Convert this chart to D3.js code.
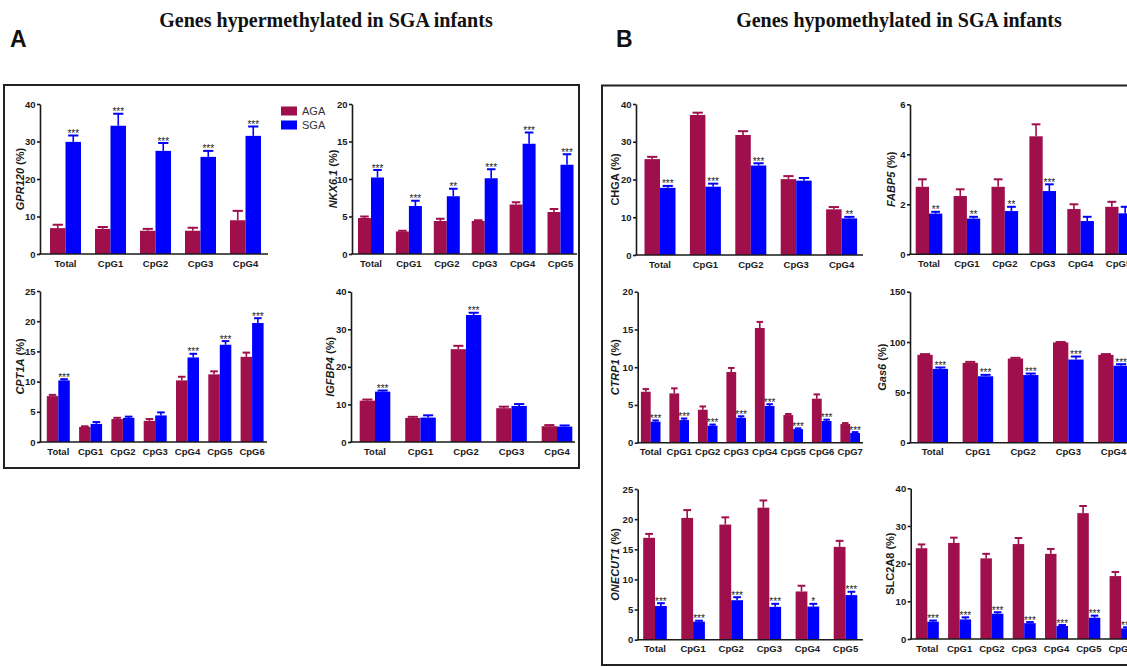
<!DOCTYPE html>
<html><head><meta charset="utf-8">
<script src="https://cdn.jsdelivr.net/npm/d3@7"></script>
<style>
body{margin:0;background:#fff;overflow:hidden}
svg{display:block;font-family:"Liberation Sans",Arial,sans-serif}
</style>
</head><body>
<svg id="chart" width="1127" height="667"></svg>
<script>
// ---------------- DATA ----------------
const seriesNames = ["AGA", "SGA"];
const seriesColors = ["#9e0f4b", "#0000ff"];

// Panel A: hypermethylated
const gpr120Cats = ["Total","CpG1","CpG2","CpG3","CpG4"];
const gpr120AGA = [6.9, 6.7, 6.2, 6.2, 9.0];
const gpr120AGAErr = [7.8, 7.2, 6.7, 7.0, 11.5];
const gpr120SGA = [29.9, 34.2, 27.5, 25.9, 31.5];
const gpr120SGAErr = [31.6, 37.4, 29.6, 27.5, 34.0];
const gpr120Stars = ["***","***","***","***","***"];

const nkx61Cats = ["Total","CpG1","CpG2","CpG3","CpG4","CpG5"];
const nkx61AGA = [4.8, 3.0, 4.4, 4.4, 6.6, 5.6];
const nkx61AGAErr = [5.0, 3.1, 4.7, 4.5, 6.9, 6.0];
const nkx61SGA = [10.2, 6.4, 7.7, 10.1, 14.7, 11.9];
const nkx61SGAErr = [11.2, 7.1, 8.7, 11.3, 16.2, 13.3];
const nkx61Stars = ["***","***","**","***","***","***"];

const cpt1aCats = ["Total","CpG1","CpG2","CpG3","CpG4","CpG5","CpG6"];
const cpt1aAGA = [7.6, 2.5, 3.8, 3.5, 10.2, 11.2, 14.1];
const cpt1aAGAErr = [7.8, 2.6, 4.0, 3.8, 10.8, 11.7, 14.8];
const cpt1aSGA = [10.2, 3.0, 4.0, 4.4, 14.0, 16.1, 19.7];
const cpt1aSGAErr = [10.4, 3.3, 4.2, 4.9, 14.6, 16.7, 20.5];
const cpt1aStars = ["***","","","","***","***","***"];

const igfbp4Cats = ["Total","CpG1","CpG2","CpG3","CpG4"];
const igfbp4AGA = [11.0, 6.4, 24.7, 9.0, 4.2];
const igfbp4AGAErr = [11.3, 6.7, 25.6, 9.4, 4.5];
const igfbp4SGA = [13.4, 6.5, 33.8, 9.6, 4.1];
const igfbp4SGAErr = [13.7, 7.1, 34.4, 10.1, 4.4];
const igfbp4Stars = ["***","","***","",""];

// Panel B: hypomethylated
const chgaCats = ["Total","CpG1","CpG2","CpG3","CpG4"];
const chgaAGA = [25.4, 37.1, 31.8, 20.1, 12.1];
const chgaAGAErr = [26.0, 37.7, 32.8, 20.9, 12.7];
const chgaSGA = [17.8, 18.1, 23.7, 19.7, 9.7];
const chgaSGAErr = [18.3, 18.9, 24.3, 20.4, 10.1];
const chgaStars = ["***","***","***","","**"];

const fabp5Cats = ["Total","CpG1","CpG2","CpG3","CpG4","CpG5"];
const fabp5AGA = [2.7, 2.33, 2.7, 4.72, 1.81, 1.9];
const fabp5AGAErr = [3.0, 2.6, 3.0, 5.2, 2.0, 2.1];
const fabp5SGA = [1.63, 1.43, 1.73, 2.53, 1.33, 1.64];
const fabp5SGAErr = [1.7, 1.5, 1.9, 2.8, 1.5, 1.9];
const fabp5Stars = ["**","**","**","***","",""];

const ctrp1Cats = ["Total","CpG1","CpG2","CpG3","CpG4","CpG5","CpG6","CpG7"];
const ctrp1AGA = [6.75, 6.53, 4.37, 9.36, 15.2, 3.66, 5.83, 2.47];
const ctrp1AGAErr = [7.1, 7.2, 4.8, 9.9, 16.0, 3.8, 6.4, 2.6];
const ctrp1SGA = [2.78, 3.0, 2.25, 3.3, 4.86, 1.8, 2.87, 1.28];
const ctrp1SGAErr = [2.95, 3.2, 2.4, 3.5, 5.1, 1.9, 3.05, 1.4];
const ctrp1Stars = ["***","***","***","***","***","***","***","***"];

const gas6Cats = ["Total","CpG1","CpG2","CpG3","CpG4"];
const gas6AGA = [87.3, 79.3, 83.6, 99.6, 87.3];
const gas6AGAErr = [88.0, 80.3, 84.3, 100.0, 88.0];
const gas6SGA = [73.3, 66.0, 67.2, 82.6, 76.5];
const gas6SGAErr = [74.7, 67.4, 68.7, 85.6, 78.0];
const gas6Stars = ["***","***","***","***","***"];

const onecut1Cats = ["Total","CpG1","CpG2","CpG3","CpG4","CpG5"];
const onecut1AGA = [16.9, 20.2, 19.1, 21.9, 8.0, 15.4];
const onecut1AGAErr = [17.55, 21.5, 20.3, 23.1, 8.95, 16.4];
const onecut1SGA = [5.6, 3.0, 6.55, 5.45, 5.5, 7.4];
const onecut1SGAErr = [6.05, 3.15, 7.05, 5.95, 5.95, 7.95];
const onecut1Stars = ["***","***","***","***","*","***"];

const slc2a8Cats = ["Total","CpG1","CpG2","CpG3","CpG4","CpG5","CpG6"];
const slc2a8AGA = [24.1, 25.5, 21.4, 25.2, 22.6, 33.4, 16.7];
const slc2a8AGAErr = [25.1, 26.9, 22.6, 26.8, 23.9, 35.3, 17.8];
const slc2a8SGA = [4.6, 5.2, 6.7, 4.2, 3.45, 5.65, 2.8];
const slc2a8SGAErr = [4.9, 5.75, 7.1, 4.5, 3.7, 6.2, 3.1];
const slc2a8Stars = ["***","***","***","***","***","***","***"];

// ---------------- LAYOUT ----------------
const panels = [
  {gene:"GPR120", cats:gpr120Cats, aga:gpr120AGA, agaErr:gpr120AGAErr, sga:gpr120SGA, sgaErr:gpr120SGAErr, stars:gpr120Stars,
   max:40, tick:10, axisX:40, y0:254, yTop:104, c0:65.5, step:45, bw:15.5, xEnd:268, lab:16},
  {gene:"NKX6.1", cats:nkx61Cats, aga:nkx61AGA, agaErr:nkx61AGAErr, sga:nkx61SGA, sgaErr:nkx61SGAErr, stars:nkx61Stars,
   max:20, tick:5, axisX:352, y0:254, yTop:104, c0:371, step:37.9, bw:13, xEnd:577, lab:15},
  {gene:"CPT1A", cats:cpt1aCats, aga:cpt1aAGA, agaErr:cpt1aAGAErr, sga:cpt1aSGA, sgaErr:cpt1aSGAErr, stars:cpt1aStars,
   max:25, tick:5, axisX:40, y0:442, yTop:291, c0:58.3, step:32.3, bw:11.5, xEnd:267, lab:16},
  {gene:"IGFBP4", cats:igfbp4Cats, aga:igfbp4AGA, agaErr:igfbp4AGAErr, sga:igfbp4SGA, sgaErr:igfbp4SGAErr, stars:igfbp4Stars,
   max:40, tick:10, axisX:351, y0:442, yTop:291.7, c0:375, step:45.5, bw:15.3, xEnd:575, lab:17},
  {gene:"CHGA", cats:chgaCats, aga:chgaAGA, agaErr:chgaAGAErr, sga:chgaSGA, sgaErr:chgaSGAErr, stars:chgaStars,
   max:40, tick:10, axisX:636, y0:255, yTop:104, c0:660, step:45.4, bw:15.5, xEnd:863, lab:17, upright:true},
  {gene:"FABP5", cats:fabp5Cats, aga:fabp5AGA, agaErr:fabp5AGAErr, sga:fabp5SGA, sgaErr:fabp5SGAErr, stars:fabp5Stars,
   max:6, tick:2, axisX:910, y0:254.3, yTop:104.3, c0:929, step:37.9, bw:13.3, xEnd:1160, lab:15},
  {gene:"CTRP1", cats:ctrp1Cats, aga:ctrp1AGA, agaErr:ctrp1AGAErr, sga:ctrp1SGA, sgaErr:ctrp1SGAErr, stars:ctrp1Stars,
   max:20, tick:5, axisX:637.7, y0:442.7, yTop:291.7, c0:650.7, step:28.5, bw:9.8, xEnd:863, lab:18.5},
  {gene:"Gas6", cats:gas6Cats, aga:gas6AGA, agaErr:gas6AGAErr, sga:gas6SGA, sgaErr:gas6SGAErr, stars:gas6Stars,
   max:150, tick:50, axisX:910, y0:442.7, yTop:291.7, c0:932.7, step:45.2, bw:15.3, xEnd:1160, lab:24},
  {gene:"ONECUT1", cats:onecut1Cats, aga:onecut1AGA, agaErr:onecut1AGAErr, sga:onecut1SGA, sgaErr:onecut1SGAErr, stars:onecut1Stars,
   max:25, tick:5, axisX:637.7, y0:639.7, yTop:489, c0:655, step:38.1, bw:11.8, xEnd:863, lab:18.5},
  {gene:"SLC2A8", cats:slc2a8Cats, aga:slc2a8AGA, agaErr:slc2a8AGAErr, sga:slc2a8SGA, sgaErr:slc2a8SGAErr, stars:slc2a8Stars,
   max:40, tick:10, axisX:910.7, y0:639, yTop:488.3, c0:927.3, step:32.3, bw:11.5, xEnd:1160, lab:16.5, upright:true}
];

const svg = d3.select("#chart");
const ink = "#1a1a1a";

// Frames
svg.append("rect").attr("x",4).attr("y",85).attr("width",575).attr("height",383)
  .attr("fill","none").attr("stroke","#222").attr("stroke-width",2);
svg.append("rect").attr("x",602).attr("y",85.5).attr("width",600).attr("height",579.5)
  .attr("fill","none").attr("stroke","#222").attr("stroke-width",2);

// Titles
const serif = "'Liberation Serif','Times New Roman',serif";
svg.append("text").attr("x",326).attr("y",27).attr("text-anchor","middle")
  .style("font-family",serif).style("font-weight","bold").style("font-size","20px")
  .attr("fill","#111").text("Genes hypermethylated in SGA infants");
svg.append("text").attr("x",899).attr("y",27).attr("text-anchor","middle")
  .style("font-family",serif).style("font-weight","bold").style("font-size","20px")
  .attr("fill","#111").text("Genes hypomethylated in SGA infants");
svg.append("text").attr("x",10).attr("y",47).style("font-weight","bold").style("font-size","23px").attr("fill","#111").text("A");
svg.append("text").attr("x",616).attr("y",47).style("font-weight","bold").style("font-size","23px").attr("fill","#111").text("B");

// Legend
const leg = svg.append("g").attr("transform","translate(281,106.5)");
seriesNames.forEach((s,i)=>{
  leg.append("rect").attr("x",0).attr("y",i*14).attr("width",16).attr("height",9).attr("fill",seriesColors[i]);
  leg.append("text").attr("x",21).attr("y",i*14+8.5).style("font-size","11px").attr("fill","#333").text(s);
});

function drawPanel(p){
  const g = svg.append("g");
  const y = d3.scaleLinear().domain([0,p.max]).range([p.y0,p.yTop]);
  const n = p.cats.length;
  const x = d3.scaleBand().domain(p.cats)
    .range([p.c0 - p.step/2, p.c0 - p.step/2 + n*p.step]).padding(0);

  const recs = [];
  p.cats.forEach((c,i)=>{
    recs.push({s:0, c, v:p.aga[i], e:p.agaErr[i], star:""});
    recs.push({s:1, c, v:p.sga[i], e:p.sgaErr[i], star:p.stars[i]});
  });
  const left = d => x(d.c) + x.bandwidth()/2 - (d.s===0 ? p.bw : 0);
  const cx = d => left(d) + p.bw/2;

  g.selectAll("rect.bar").data(recs).join("rect").attr("class","bar")
    .attr("x",left).attr("width",p.bw)
    .attr("y",d=>y(d.v)).attr("height",d=>y(0)-y(d.v))
    .attr("fill",d=>seriesColors[d.s]);

  const cw = p.bw*0.66;
  g.selectAll("line.ev").data(recs).join("line").attr("class","ev")
    .attr("x1",cx).attr("x2",cx).attr("y1",d=>y(d.v)).attr("y2",d=>y(d.e))
    .attr("stroke",d=>seriesColors[d.s]).attr("stroke-width",1.6);
  g.selectAll("line.ec").data(recs).join("line").attr("class","ec")
    .attr("x1",d=>cx(d)-cw/2).attr("x2",d=>cx(d)+cw/2).attr("y1",d=>y(d.e)).attr("y2",d=>y(d.e))
    .attr("stroke",d=>seriesColors[d.s]).attr("stroke-width",2);

  g.selectAll("text.star").data(recs.filter(d=>d.star)).join("text").attr("class","star")
    .attr("x",cx).attr("y",d=>y(d.e)+1.5).attr("text-anchor","middle")
    .style("font-size","10px").attr("fill","#222").text(d=>d.star);

  // Y axis
  const ya = g.append("g").attr("transform",`translate(${p.axisX},0)`)
    .call(d3.axisLeft(y).tickValues(d3.range(0,p.max+1e-9,p.tick)).tickFormat(d3.format("d"))
      .tickSize(3).tickSizeOuter(0).tickPadding(1.5));
  ya.select(".domain").attr("stroke",ink).attr("stroke-width",1.6);
  ya.selectAll(".tick line").attr("stroke",ink).attr("stroke-width",1.6);
  ya.selectAll(".tick text").style("font-size","9.5px").style("font-weight","bold").attr("fill",ink)
    .style("font-family","'Liberation Sans',Arial,sans-serif");

  // X axis line
  g.append("line").attr("x1",p.axisX-0.8).attr("x2",p.xEnd).attr("y1",p.y0).attr("y2",p.y0)
    .attr("stroke",ink).attr("stroke-width",1.6);
  const xa = g.append("g").attr("transform",`translate(0,${p.y0})`)
    .call(d3.axisBottom(x).tickSize(0).tickPadding(6));
  xa.select(".domain").remove();
  xa.selectAll(".tick text").style("font-size","9.5px").style("font-weight","bold").attr("fill",ink)
    .style("font-family","'Liberation Sans',Arial,sans-serif");

  // Y label
  const lt = g.append("text")
    .attr("transform",`translate(${p.axisX - p.lab},${(p.y0+p.yTop)/2}) rotate(-90)`)
    .attr("text-anchor","middle").style("font-size","11px").style("font-weight","bold").attr("fill",ink);
  lt.append("tspan").style("font-style", p.upright ? "normal" : "italic").text(p.gene);
  lt.append("tspan").text(" (%)");
}

panels.forEach(drawPanel);
</script>
</body></html>
